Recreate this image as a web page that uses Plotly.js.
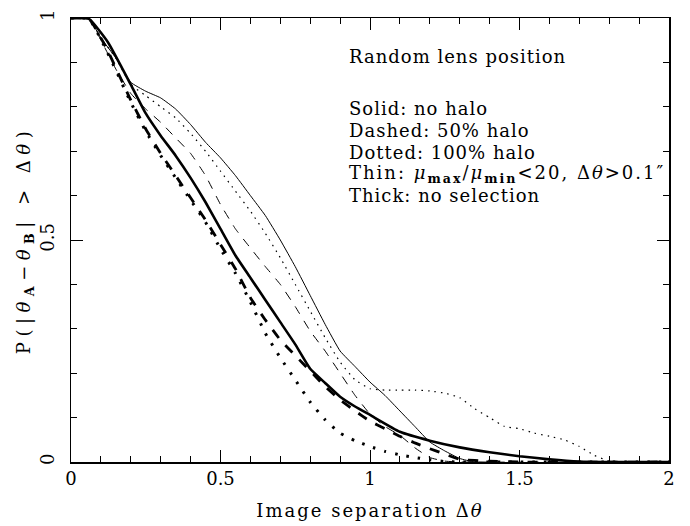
<!DOCTYPE html>
<html>
<head>
<meta charset="utf-8">
<script src="https://cdn.plot.ly/plotly-3.0.1.min.js"></script>
<style>html,body{margin:0;padding:0;background:#fff;}#chart{width:690px;height:526px;}</style>
</head>
<body>
<div id="chart"></div>
<script>
// Thin solid: no halo, with selection
const thinSolidX = [0, 0.06, 0.1, 0.15, 0.2, 0.25, 0.3, 0.35, 0.4, 0.45, 0.5, 0.55, 0.6, 0.65, 0.7, 0.75, 0.8, 0.85, 0.9, 0.95, 1.0, 1.05, 1.1, 1.15, 1.2, 1.25, 1.3, 1.35, 2.0];
const thinSolidY = [1, 0.998, 0.955, 0.91, 0.855, 0.835, 0.82, 0.795, 0.76, 0.72, 0.685, 0.645, 0.60, 0.555, 0.50, 0.44, 0.375, 0.31, 0.25, 0.215, 0.18, 0.15, 0.115, 0.08, 0.045, 0.025, 0.008, 0, 0];
// Thin dashed: 50% halo, with selection
const thinDashX = [0, 0.06, 0.1, 0.15, 0.2, 0.25, 0.3, 0.35, 0.4, 0.45, 0.5, 0.55, 0.6, 0.65, 0.7, 0.75, 0.8, 0.85, 0.9, 0.95, 1.0, 1.05, 1.1, 1.15, 1.2, 1.25, 1.3, 2.0];
const thinDashY = [1, 0.998, 0.95, 0.885, 0.83, 0.795, 0.765, 0.73, 0.695, 0.645, 0.58, 0.525, 0.482, 0.44, 0.40, 0.35, 0.295, 0.25, 0.20, 0.15, 0.108, 0.08, 0.06, 0.032, 0.01, 0.002, 0, 0];
// Thin dotted: 100% halo, with selection
const thinDotX = [0, 0.06, 0.1, 0.15, 0.2, 0.25, 0.3, 0.35, 0.4, 0.45, 0.5, 0.55, 0.6, 0.65, 0.7, 0.75, 0.8, 0.85, 0.9, 0.95, 1.0, 1.05, 1.1, 1.15, 1.2, 1.25, 1.3, 1.35, 1.4, 1.45, 1.5, 1.55, 1.6, 1.65, 1.7, 1.75, 1.8, 1.85, 2.0];
const thinDotY = [1, 0.998, 0.955, 0.91, 0.85, 0.825, 0.80, 0.775, 0.74, 0.70, 0.655, 0.61, 0.565, 0.515, 0.46, 0.40, 0.34, 0.28, 0.225, 0.185, 0.165, 0.162, 0.162, 0.162, 0.16, 0.155, 0.145, 0.12, 0.10, 0.08, 0.075, 0.065, 0.058, 0.05, 0.035, 0.015, 0.002, 0, 0];
// Thick solid: no halo, no selection
const thickSolidX = [0, 0.06, 0.124, 0.2, 0.25, 0.3, 0.35, 0.4, 0.45, 0.5, 0.55, 0.6, 0.65, 0.7, 0.75, 0.8, 0.85, 0.9, 0.95, 1.0, 1.1, 1.2, 1.3, 1.4, 1.5, 1.6, 1.7, 1.8, 2.0];
const thickSolidY = [1, 0.998, 0.945, 0.85, 0.785, 0.735, 0.69, 0.64, 0.585, 0.525, 0.465, 0.415, 0.365, 0.315, 0.265, 0.21, 0.178, 0.147, 0.125, 0.106, 0.068, 0.048, 0.033, 0.022, 0.013, 0.006, 0.001, 0, 0];
// Thick dashed: 50% halo, no selection
const thickDashX = [0, 0.06, 0.12, 0.2, 0.25, 0.3, 0.35, 0.4, 0.45, 0.5, 0.55, 0.6, 0.65, 0.7, 0.75, 0.8, 0.85, 0.9, 0.95, 1.0, 1.05, 1.1, 1.15, 1.2, 1.25, 1.3, 1.4, 1.5, 2.0];
const thickDashY = [1, 0.998, 0.93, 0.815, 0.75, 0.695, 0.645, 0.595, 0.545, 0.49, 0.435, 0.37, 0.32, 0.275, 0.24, 0.205, 0.17, 0.14, 0.115, 0.092, 0.075, 0.058, 0.043, 0.03, 0.018, 0.006, 0.002, 0, 0];
// Thick dotted: 100% halo, no selection
const thickDotX = [0, 0.06, 0.12, 0.2, 0.25, 0.3, 0.35, 0.4, 0.45, 0.5, 0.55, 0.6, 0.65, 0.7, 0.75, 0.8, 0.85, 0.9, 0.95, 1.0, 1.05, 1.1, 1.15, 1.2, 1.25, 1.3, 2.0];
const thickDotY = [1, 0.998, 0.925, 0.81, 0.745, 0.69, 0.64, 0.59, 0.54, 0.48, 0.425, 0.36, 0.29, 0.235, 0.185, 0.135, 0.095, 0.065, 0.048, 0.035, 0.024, 0.016, 0.01, 0.005, 0.001, 0, 0];

const xTickVals = [0, 0.5, 1, 1.5, 2];
const xTickText = ['0', '0.5', '1', '1.5', '2'];
const yTickVals = [0, 0.5, 1];
const yTickText = ['0', '0.5', '1'];

const noteLines = [
  'Random lens position',
  '',
  'Solid: no halo',
  'Dashed: 50% halo',
  'Dotted: 100% halo',
  'Thin: <i>μ</i><sub><b>max</b></sub>/<i>μ</i><sub><b>min</b></sub><20, Δ<i>θ</i>>0.1″',
  'Thick: no selection'
];

const FONT = 'DejaVu Serif, serif';
const black = '#000';

function spaced(t, px) {
  return '<span style="letter-spacing:' + px + 'px">' + t + '</span>';
}

function tr(x, y, width, dash) {
  return {x: x, y: y, type: 'scatter', mode: 'lines',
    line: {color: black, width: width, dash: dash, shape: 'spline', smoothing: 0.4},
    hoverinfo: 'skip', showlegend: false};
}

const data = [
  tr(thinSolidX, thinSolidY, 1, 'solid'),
  tr(thinDashX, thinDashY, 1, '9px,8px'),
  tr(thinDotX, thinDotY, 1.2, '1.5px,5px'),
  tr(thickSolidX, thickSolidY, 2.6, 'solid'),
  tr(thickDashX, thickDashY, 2.8, '10px,10px'),
  tr(thickDotX, thickDotY, 3, '2.5px,9px')
];

const annotations = [];
const lineY = [57, 0, 108, 130, 152, 174, 195];
const lineSpacing = [1, 0, 1, 1, 1, 2, 1];
noteLines.forEach(function (t, i) {
  if (!t) return;
  annotations.push({
    text: spaced(t, lineSpacing[i]), xref: 'paper', yref: 'paper',
    x: (347 - 71) / 598, y: 1 - (lineY[i] - 18) / 444,
    xanchor: 'left', yanchor: 'middle', showarrow: false, align: 'left',
    font: {family: FONT, size: 18, color: black}
  });
});

const axisCommon = {
  showgrid: false, zeroline: false, showline: true, linecolor: black, linewidth: 1.5,
  mirror: 'allticks', ticks: 'inside', ticklen: 12, tickwidth: 1, tickcolor: black,
  tickfont: {family: FONT, size: 18, color: black}
};

const layout = {
  width: 690, height: 526,
  margin: {l: 71, r: 21, t: 18, b: 64},
  paper_bgcolor: '#fff', plot_bgcolor: '#fff',
  xaxis: Object.assign({}, axisCommon, {
    range: [0, 2], tickvals: xTickVals, ticktext: xTickText,
    minor: {dtick: 0.1, ticks: 'inside', ticklen: 6, tickwidth: 1, tickcolor: black},
    title: {text: spaced('Image separation Δ<i>θ</i>', 2), font: {family: FONT, size: 18, color: black}, standoff: 16}
  }),
  yaxis: Object.assign({}, axisCommon, {
    range: [0, 1], tickvals: yTickVals, ticktext: yTickText, tickangle: -90,
    ticklabelstandoff: 8,
    minor: {dtick: 0.1, ticks: 'inside', ticklen: 6, tickwidth: 1, tickcolor: black},
    title: {text: spaced('P(|<i>θ</i><sub><b>A</b></sub>−<i>θ</i><sub><b>B</b></sub>| > Δ<i>θ</i>)', 5.5), font: {family: FONT, size: 18, color: black}, standoff: 2}
  }),
  annotations: annotations
};

Plotly.newPlot('chart', data, layout, {displayModeBar: false, staticPlot: true});
</script>
</body>
</html>
